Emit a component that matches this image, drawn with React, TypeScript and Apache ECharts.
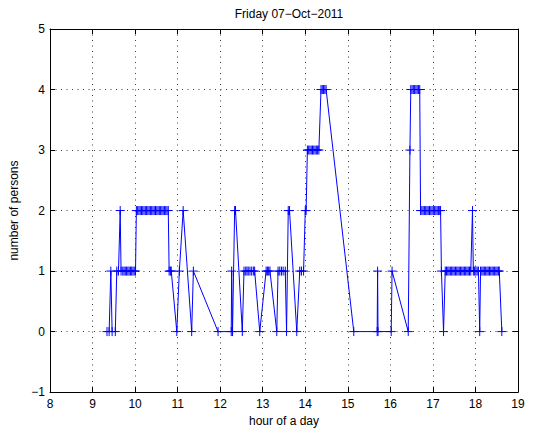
import React, { useEffect, useRef } from "react";
import * as echarts from "echarts";

const titleText = "Friday 07\u2212Oct\u22122011";
const xAxisName = "hour of a day";
const yAxisName = "number of persons";
const xTickLabels = ["8", "9", "10", "11", "12", "13", "14", "15", "16", "17", "18", "19"];
const yTickLabels = ["\u22121", "0", "1", "2", "3", "4", "5"];

const hours = [
  9.34, 9.39, 9.43, 9.46, 9.535, 9.57, 9.61, 9.65, 9.67, 9.71, 9.74, 9.77, 9.8, 9.83, 9.86, 9.89, 9.92, 9.95, 9.98, 10.01,
  10.03, 10.06, 10.09, 10.12, 10.15, 10.18, 10.21, 10.24, 10.27, 10.3, 10.33, 10.36, 10.39, 10.42, 10.45, 10.48, 10.51,
  10.54, 10.57, 10.6, 10.63, 10.66, 10.69, 10.72, 10.75, 10.78,
  10.8, 10.83, 10.85, 10.98, 11.04, 11.13, 11.33, 11.37, 11.95,
  12.26, 12.27, 12.29, 12.34, 12.36, 12.52, 12.56, 12.6, 12.63, 12.66, 12.7, 12.74, 12.78, 12.81, 12.93,
  13.08, 13.11, 13.14, 13.17, 13.33, 13.36, 13.4, 13.44, 13.48, 13.53, 13.56, 13.6, 13.63, 13.8, 13.87, 13.91, 13.96,
  14.0, 14.02, 14.05, 14.08, 14.11, 14.14, 14.17, 14.2, 14.23, 14.26, 14.29, 14.32, 14.37, 14.4, 14.43, 14.46, 14.49,
  15.14, 15.69, 15.7, 15.71, 16.02, 16.04, 16.42, 16.46,
  16.48, 16.51, 16.54, 16.57, 16.6, 16.63, 16.66, 16.69,
  16.71, 16.74, 16.77, 16.8, 16.83, 16.86, 16.89, 16.92, 16.95, 16.98, 17.01, 17.04, 17.07, 17.1, 17.13, 17.16, 17.18,
  17.2, 17.25,
  17.29, 17.32, 17.35, 17.38, 17.41, 17.44, 17.47, 17.5, 17.53, 17.56, 17.59, 17.62, 17.65, 17.68, 17.71, 17.74, 17.77,
  17.8, 17.83, 17.86, 17.89, 17.93, 17.95, 17.98, 18.01, 18.04, 18.07, 18.1,
  18.12, 18.15, 18.18, 18.21, 18.24, 18.27, 18.3, 18.33, 18.36, 18.39, 18.42, 18.45, 18.48, 18.51, 18.54, 18.56, 18.62,
];

const persons = [
  0, 0, 1, 0, 0, 1, 1, 2, 1, 1, 1, 1, 1, 1, 1, 1, 1, 1, 1, 1,
  2, 2, 2, 2, 2, 2, 2, 2, 2, 2, 2, 2, 2, 2, 2, 2, 2,
  2, 2, 2, 2, 2, 2, 2, 2, 2,
  1, 1, 1, 0, 1, 2, 0, 1, 0,
  0, 1, 0, 2, 2, 0, 1, 1, 1, 1, 1, 1, 1, 1, 0,
  1, 1, 1, 1, 0, 1, 1, 1, 1, 1, 0, 2, 2, 0, 1, 1, 1,
  2, 2, 3, 3, 3, 3, 3, 3, 3, 3, 3, 3, 4, 4, 4, 4, 4,
  0, 0, 1, 0, 0, 1, 0, 3,
  4, 4, 4, 4, 4, 4, 4, 4,
  2, 2, 2, 2, 2, 2, 2, 2, 2, 2, 2, 2, 2, 2, 2, 2, 2,
  1, 0,
  1, 1, 1, 1, 1, 1, 1, 1, 1, 1, 1, 1, 1, 1, 1, 1, 1,
  1, 1, 1, 1, 2, 1, 1, 1, 1, 1, 0,
  1, 1, 1, 1, 1, 1, 1, 1, 1, 1, 1, 1, 1, 1, 1, 1, 0,
];

const FONT = '"Liberation Sans", Arial, Helvetica, sans-serif';

export default function App() {
  const ref = useRef<HTMLDivElement>(null);

  useEffect(() => {
    if (!ref.current) return;
    const chart = echarts.init(ref.current, null, { renderer: "svg" });
    const data = hours.map((h, i) => [h, persons[i]]);
    const xMin = Number(xTickLabels[0]);
    const xMax = Number(xTickLabels[xTickLabels.length - 1]);
    const yMin = -1;
    const yMax = Number(yTickLabels[yTickLabels.length - 1]);

    const gridDots = { color: "#3a3a3a", width: 1, type: [1, 4.5] as any };
    const baseX = {
      type: "value",
      min: xMin,
      max: xMax,
      interval: 1,
    };
    const baseY = {
      type: "value",
      min: yMin,
      max: yMax,
      interval: 1,
    };

    chart.setOption({
      animation: false,
      backgroundColor: "#ffffff",
      title: {
        text: titleText,
        left: 284,
        top: 3,
        textAlign: "center",
        textStyle: { fontFamily: FONT, fontSize: 12, fontWeight: "normal", color: "#000" },
      },
      grid: { left: 50, top: 29, width: 468, height: 369, containLabel: false },
      xAxis: [
        {
          ...baseX,
          position: "bottom",
          name: xAxisName,
          nameLocation: "middle",
          nameGap: 21,
          nameTextStyle: { fontFamily: FONT, fontSize: 12, color: "#000" },
          axisLine: { show: true, onZero: false, lineStyle: { color: "#000", width: 1 } },
          axisTick: { show: true, inside: true, length: 5, lineStyle: { color: "#000" } },
          axisLabel: {
            show: true,
            margin: 6,
            fontFamily: FONT,
            fontSize: 12,
            color: "#000",
            formatter: (v: number) => {
              const idx = Math.round(v - xMin);
              return xTickLabels[idx] ?? "";
            },
          },
          splitLine: { show: true, lineStyle: gridDots },
        },
        {
          ...baseX,
          position: "top",
          axisLine: { show: true, onZero: false, lineStyle: { color: "#000", width: 1 } },
          axisTick: { show: true, inside: true, length: 5, lineStyle: { color: "#000" } },
          axisLabel: { show: false },
          splitLine: { show: false },
        },
      ],
      yAxis: [
        {
          ...baseY,
          position: "left",
          name: yAxisName,
          nameLocation: "middle",
          nameGap: 25,
          nameTextStyle: { fontFamily: FONT, fontSize: 12, color: "#000" },
          axisLine: { show: true, onZero: false, lineStyle: { color: "#000", width: 1 } },
          axisTick: { show: true, inside: true, length: 5, lineStyle: { color: "#000" } },
          axisLabel: {
            show: true,
            margin: 5,
            fontFamily: FONT,
            fontSize: 12,
            color: "#000",
            formatter: (v: number) => {
              const idx = Math.round(v - yMin);
              return yTickLabels[idx] ?? "";
            },
          },
          splitLine: { show: true, lineStyle: gridDots },
        },
        {
          ...baseY,
          position: "right",
          axisLine: { show: true, onZero: false, lineStyle: { color: "#000", width: 1 } },
          axisTick: { show: true, inside: true, length: 5, lineStyle: { color: "#000" } },
          axisLabel: { show: false },
          splitLine: { show: false },
        },
      ],
      series: [
        {
          type: "line",
          xAxisIndex: 0,
          yAxisIndex: 0,
          data,
          showAllSymbol: true,
          symbol: "path://M5,0L5,10M0,5L10,5",
          symbolSize: 9,
          symbolKeepAspect: true,
          itemStyle: { color: "#0000ff", borderColor: "#0000ff", borderWidth: 1 },
          lineStyle: { color: "#0000ff", width: 1 },
          emphasis: { disabled: true },
        },
      ],
    });
    return () => chart.dispose();
  }, []);

  return (
    <div
      ref={ref}
      style={{ position: "fixed", left: 0, top: 0, width: 533, height: 432, background: "#fff" }}
    />
  );
}
